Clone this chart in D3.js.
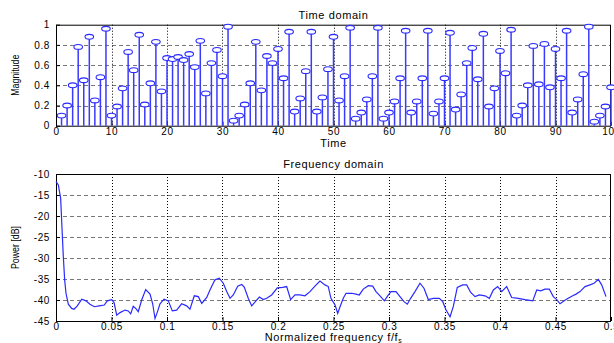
<!DOCTYPE html>
<html>
<head>
<meta charset="utf-8">
<script src="https://cdn.jsdelivr.net/npm/d3@7"></script>
<style>
  html, body { margin: 0; padding: 0; background: #fff; }
  svg { display: block; }
  text { font-family: "Liberation Sans", Arial, sans-serif; fill: #000; }
</style>
</head>
<body>
<svg id="chart" width="614" height="343"></svg>
<script>
// Time-domain samples, n = 1..100
const sampleIndex = d3.range(1, 101);
const magnitude = [
  0.10, 0.20, 0.40, 0.78, 0.45, 0.88, 0.25, 0.48, 0.96, 0.10,
  0.19, 0.37, 0.73, 0.55, 0.90, 0.21, 0.42, 0.83, 0.34, 0.67,
  0.66, 0.68, 0.65, 0.71, 0.58, 0.84, 0.32, 0.62, 0.75, 0.49,
  0.98, 0.05, 0.10, 0.21, 0.42, 0.83, 0.35, 0.69, 0.62, 0.76,
  0.47, 0.93, 0.14, 0.27, 0.54, 0.93, 0.14, 0.28, 0.56, 0.88,
  0.25, 0.49, 0.97, 0.07, 0.13, 0.26, 0.49, 0.97, 0.07, 0.13,
  0.24, 0.47, 0.94, 0.13, 0.24, 0.47, 0.94, 0.12, 0.24, 0.47,
  0.92, 0.16, 0.31, 0.62, 0.77, 0.46, 0.91, 0.19, 0.37, 0.74,
  0.52, 0.95, 0.10, 0.20, 0.40, 0.79, 0.41, 0.81, 0.38, 0.76,
  0.47, 0.94, 0.13, 0.26, 0.51, 0.98, 0.04, 0.10, 0.19, 0.38
];

// Power spectrum estimate
const freq = [
  0, 0.0021, 0.0042, 0.0054, 0.0066, 0.0078, 0.0090, 0.0111, 0.0141, 0.0162,
  0.0192, 0.0232, 0.0270, 0.0306, 0.0345, 0.0390, 0.0435, 0.0462, 0.0502, 0.0523,
  0.0547, 0.0577, 0.0622, 0.0651, 0.0673, 0.0696, 0.0718, 0.0741, 0.0772, 0.0808,
  0.0847, 0.0871, 0.0892, 0.0913, 0.0937, 0.0973, 0.1012, 0.1048, 0.1087, 0.1132,
  0.1177, 0.1207, 0.1246, 0.1282, 0.1313, 0.1358, 0.1387, 0.1432, 0.1471, 0.1507,
  0.1538, 0.1568, 0.1597, 0.1637, 0.1673, 0.1696, 0.1732, 0.1763, 0.1802, 0.1832,
  0.1868, 0.1898, 0.1943, 0.1994, 0.2042, 0.2078, 0.2114, 0.2153, 0.2198, 0.2243,
  0.2288, 0.2333, 0.2378, 0.2423, 0.2453, 0.2477, 0.2514, 0.2538, 0.2559, 0.2588,
  0.2613, 0.2664, 0.2703, 0.2732, 0.2768, 0.2814, 0.2853, 0.2883, 0.2919, 0.2958,
  0.2988, 0.3018, 0.3063, 0.3099, 0.3135, 0.3165, 0.3195, 0.3234, 0.3279, 0.3315,
  0.3354, 0.3399, 0.3453, 0.3484, 0.3514, 0.3550, 0.3579, 0.3615, 0.3664, 0.3700,
  0.3736, 0.3775, 0.3814, 0.3865, 0.3904, 0.3940, 0.3979, 0.4015, 0.4060, 0.4105,
  0.4165, 0.4225, 0.4295, 0.4331, 0.4367, 0.4405, 0.4444, 0.4480, 0.4511, 0.4541,
  0.4595, 0.4655, 0.4685, 0.4721, 0.4766, 0.4811, 0.4847, 0.4886, 0.4916, 0.4955
];
const powerDb = [
  -11.8, -12.6, -15.8, -22.9, -29.7, -35.2, -38.4, -41.0, -42.0, -42.2,
  -41.4, -39.8, -40.2, -41.0, -41.6, -41.4, -41.2, -40.2, -39.9, -40.6,
  -43.6, -43.0, -42.4, -42.6, -43.3, -41.5, -42.0, -42.8, -40.0, -37.5,
  -38.6, -40.9, -44.4, -42.9, -40.9, -39.8, -40.2, -42.6, -42.4, -40.9,
  -41.4, -42.2, -39.0, -39.2, -40.8, -39.4, -37.6, -35.2, -34.8, -36.0,
  -38.0, -39.6, -38.8, -36.7, -36.3, -36.9, -39.6, -41.4, -40.2, -39.3,
  -39.9, -39.6, -38.8, -37.1, -37.0, -36.8, -39.9, -38.8, -38.8, -39.0,
  -38.0, -36.7, -35.5, -36.4, -36.8, -39.6, -41.2, -43.2, -41.6, -39.6,
  -38.4, -38.4, -38.6, -38.8, -37.4, -36.6, -36.7, -38.0, -39.0, -40.2,
  -39.0, -38.0, -38.0, -39.2, -40.4, -41.0, -39.6, -38.0, -36.0, -37.2,
  -39.9, -39.6, -39.6, -40.4, -42.4, -44.0, -41.6, -37.0, -36.4, -36.4,
  -38.2, -39.2, -38.8, -39.0, -39.6, -37.6, -36.8, -38.0, -36.8, -39.4,
  -39.6, -39.9, -40.2, -37.6, -37.8, -37.4, -37.4, -39.2, -39.9, -40.9,
  -39.9, -39.0, -38.6, -38.0, -36.8, -36.4, -36.0, -35.1, -36.4, -39.2
];

const timeTicks = d3.range(0, 101, 10);
const magTicks = [0, 0.2, 0.4, 0.6, 0.8, 1];
const freqTicks = [0, 0.05, 0.1, 0.15, 0.2, 0.25, 0.3, 0.35, 0.4, 0.45, 0.5];
const powerTicks = [-45, -40, -35, -30, -25, -20, -15, -10];

const svg = d3.select("#chart");
const plotLeft = 56, plotRight = 611;

function panel(cfg) {
  const g = svg.append("g");
  const x = d3.scaleLinear().domain(cfg.xDomain).range([plotLeft, plotRight]);
  const y = d3.scaleLinear().domain(cfg.yDomain).range([cfg.bottom, cfg.top]);

  // grid: horizontal dashed, vertical dotted
  g.append("g").selectAll("line").data(cfg.yTicks.slice(1, -1)).join("line")
    .attr("x1", plotLeft).attr("x2", plotRight)
    .attr("y1", d => Math.round(y(d)) + 0.5).attr("y2", d => Math.round(y(d)) + 0.5)
    .attr("stroke", "#777").attr("stroke-width", 1).attr("stroke-dasharray", "4,3");
  g.append("g").selectAll("line").data(cfg.xTicks.slice(1, -1)).join("line")
    .attr("x1", d => Math.round(x(d)) + 0.5).attr("x2", d => Math.round(x(d)) + 0.5)
    .attr("y1", cfg.top).attr("y2", cfg.bottom)
    .attr("stroke", "#000").attr("stroke-width", 1).attr("stroke-dasharray", "1,2");

  const xAxis = d3.axisBottom(x).tickValues(cfg.xTicks).tickSize(-4).tickPadding(2)
    .tickFormat(cfg.xFormat);
  const yAxis = d3.axisLeft(y).tickValues(cfg.yTicks).tickSize(-4).tickPadding(6)
    .tickFormat(cfg.yFormat);

  const gx = g.append("g").attr("transform", `translate(0,${cfg.bottom})`).call(xAxis);
  const gy = g.append("g").attr("transform", `translate(${plotLeft},0)`).call(yAxis);
  [gx, gy].forEach(a => {
    a.select(".domain").remove();
    a.selectAll("line").attr("stroke", "#000");
    a.selectAll("text").attr("font-size", 10).attr("letter-spacing", "0.6px")
      .attr("font-family", "Liberation Sans, Arial, sans-serif");
  });

  // box
  g.append("rect").attr("x", plotLeft + 0.5).attr("y", cfg.top + 0.5)
    .attr("width", plotRight - plotLeft - 1).attr("height", cfg.bottom - cfg.top)
    .attr("fill", "none").attr("stroke", "#000").attr("stroke-width", 1);

  g.append("text").attr("x", (plotLeft + plotRight) / 2).attr("y", cfg.top - 6)
    .attr("text-anchor", "middle").attr("font-size", 11).attr("letter-spacing", "0.6px")
    .text(cfg.title);
  const xl = g.append("text").attr("x", (plotLeft + plotRight) / 2).attr("y", cfg.xLabelY)
    .attr("text-anchor", "middle").attr("font-size", 11).attr("letter-spacing", "0.6px");
  cfg.xLabel(xl);
  g.append("text")
    .attr("transform", `translate(${cfg.yLabelX},${(cfg.top + cfg.bottom) / 2}) rotate(-90) scale(0.8,1)`)
    .attr("text-anchor", "middle").attr("font-size", 11)
    .text(cfg.yLabel);

  return { g, x, y };
}

// Time domain stem plot
const timePanel = panel({
  xDomain: [0, 100], yDomain: [0, 1], top: 24.7, bottom: 125.7,
  xTicks: timeTicks, yTicks: magTicks,
  xFormat: d3.format("d"), yFormat: d => d === 0 || d === 1 ? String(d) : d3.format(".1f")(d),
  title: "Time domain", xLabelY: 146.5, yLabelX: 19, yLabel: "Magnitude",
  xLabel: t => t.text("Time")
});
const stems = timePanel.g.append("g");
stems.selectAll("line").data(sampleIndex).join("line")
  .attr("x1", d => timePanel.x(d)).attr("x2", d => timePanel.x(d))
  .attr("y1", timePanel.y(0)).attr("y2", (d, i) => timePanel.y(magnitude[i]))
  .attr("stroke", "#3a3aff").attr("stroke-width", 1.5);
stems.selectAll("ellipse").data(sampleIndex).join("ellipse")
  .attr("cx", d => timePanel.x(d)).attr("cy", (d, i) => timePanel.y(magnitude[i]))
  .attr("rx", 4.3).attr("ry", 2.4)
  .attr("fill", "#fff").attr("stroke", "#2a2aff").attr("stroke-width", 1.1);

// Frequency domain line
const freqPanel = panel({
  xDomain: [0, 0.5], yDomain: [-45, -10], top: 174, bottom: 321,
  xTicks: freqTicks, yTicks: powerTicks,
  xFormat: d => String(d), yFormat: d => String(d),
  title: "Frequency domain", xLabelY: 341, yLabelX: 19, yLabel: "Power [dB]",
  xLabel: t => {
    t.append("tspan").text("Normalized frequency f/f");
    t.append("tspan").attr("font-size", 7).attr("dy", 2).text("s");
  }
});
const spectrumLine = d3.line().x((d, i) => freqPanel.x(freq[i])).y(d => freqPanel.y(d));
freqPanel.g.append("path").datum(powerDb).attr("d", spectrumLine)
  .attr("fill", "none").attr("stroke", "#2a2aff").attr("stroke-width", 1.2);
</script>
</body>
</html>
